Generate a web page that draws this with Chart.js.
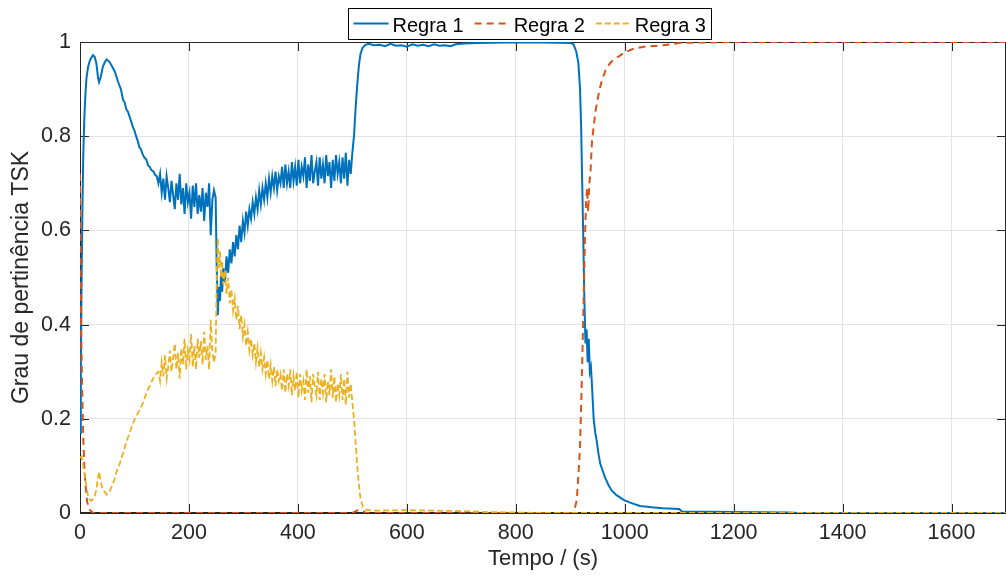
<!DOCTYPE html>
<html>
<head>
<meta charset="utf-8">
<script src="https://cdn.jsdelivr.net/npm/chart.js@4/dist/chart.umd.min.js"></script>
<style>
  html, body { margin: 0; padding: 0; background: #fff; }
  #wrap { width: 1006px; height: 583px; }
</style>
</head>
<body>
<div id="wrap"><canvas id="graph1" width="1006" height="583"></canvas></div>
<script>
// series names
var nomes = ["Regra 1", "Regra 2", "Regra 3"];

// Regra 1 (time in s, membership degree)
var t1 = [0, 1.5, 3, 4.5, 6, 8, 10, 12, 15, 18, 21, 24, 27, 30, 33, 35, 38, 42, 46, 49, 54, 58, 64, 70, 75, 79, 82, 85, 88, 92, 97, 100, 103, 106, 109, 112, 115, 118, 122, 125, 128, 131, 135, 138, 141,
  144, 147, 150, 153, 156, 159, 162, 165, 168, 171, 174, 177, 180, 183, 186, 189, 192, 195, 198, 201, 204, 207, 210, 213, 216, 219, 222, 225, 228, 231, 234, 237, 240, 243, 246, 249,
  251, 253, 255, 257, 259, 261, 263, 266, 269, 272, 275, 278, 281, 284, 287, 290, 293, 296, 299, 302, 305, 308, 311, 314, 317, 320, 323, 326, 329, 332, 335, 338, 341, 344, 347, 350,
  353, 356, 359, 362, 365, 368, 371, 374, 377, 380, 383, 386, 389, 392, 395, 398, 401, 404, 407, 410, 413, 416, 419, 422, 425, 428, 431, 434, 437, 440, 443, 446, 449, 452,
  455, 458, 461, 464, 467, 470, 473, 476, 479, 482, 485, 488, 491, 494, 497, 500, 503, 506, 509, 512, 515, 519, 524, 530,
  540, 550, 560, 570, 580, 590, 600, 610, 620, 630, 640, 650, 660, 670, 680, 690, 705, 730, 780, 850, 900, 906,
  911, 915, 918, 920, 922, 924, 926, 928, 930, 932, 934, 936, 938, 940, 943, 946, 949, 952, 955, 960, 964, 970, 976, 985, 998, 1010, 1028, 1050, 1070, 1090, 1100, 1105,
  1200, 1300, 1320, 1700];
var r1 = [0.17, 0.30, 0.50, 0.65, 0.76, 0.84, 0.89, 0.925, 0.948, 0.96, 0.967, 0.972, 0.968, 0.955, 0.925, 0.915, 0.925, 0.948, 0.958, 0.963, 0.958, 0.95, 0.937, 0.915, 0.90, 0.877, 0.872, 0.857, 0.852, 0.838, 0.82, 0.812, 0.80, 0.79, 0.777, 0.772, 0.762, 0.755, 0.75, 0.738, 0.735, 0.728, 0.725, 0.718, 0.715,
  0.70, 0.72, 0.68, 0.71, 0.665, 0.715, 0.69, 0.66, 0.705, 0.675, 0.645, 0.70, 0.665, 0.72, 0.655, 0.69, 0.635, 0.70, 0.66, 0.68, 0.625, 0.695, 0.65, 0.70, 0.635, 0.675, 0.64, 0.69, 0.62, 0.68, 0.65, 0.70, 0.59, 0.665, 0.685, 0.67,
  0.52, 0.42, 0.48, 0.45, 0.51, 0.47, 0.52, 0.49, 0.545, 0.51, 0.56, 0.53, 0.575, 0.545, 0.59, 0.56, 0.61, 0.575, 0.62, 0.595, 0.64, 0.61, 0.645, 0.625, 0.66, 0.635, 0.67, 0.645, 0.685, 0.655, 0.69, 0.665, 0.70, 0.67, 0.71, 0.68,
  0.715, 0.69, 0.725, 0.685, 0.715, 0.70, 0.735, 0.69, 0.74, 0.70, 0.725, 0.69, 0.745, 0.705, 0.735, 0.695, 0.75, 0.70, 0.735, 0.715, 0.755, 0.69, 0.74, 0.705, 0.76, 0.70, 0.725, 0.745, 0.695, 0.755, 0.71, 0.74, 0.70, 0.76,
  0.715, 0.745, 0.69, 0.75, 0.705, 0.76, 0.72, 0.745, 0.70, 0.755, 0.71, 0.765, 0.695, 0.75, 0.72, 0.765, 0.80, 0.86, 0.91, 0.95, 0.975, 0.988, 0.994, 0.996,
  0.993, 0.994, 0.991, 0.996, 0.992, 0.993, 0.990, 0.995, 0.992, 0.994, 0.991, 0.995, 0.992, 0.993, 0.991, 0.995, 0.997, 0.998, 0.999, 0.999, 0.998, 0.995,
  0.98, 0.955, 0.90, 0.82, 0.70, 0.58, 0.45, 0.36, 0.39, 0.32, 0.37, 0.30, 0.31, 0.27, 0.20, 0.17, 0.15, 0.125, 0.105, 0.088, 0.075, 0.06, 0.048, 0.038, 0.028, 0.022, 0.015, 0.012, 0.010, 0.009, 0.0085, 0.003,
  0.002, 0.001, 0, 0];

// Regra 2
var t2 = [0, 1, 2, 4, 6, 8, 10, 13, 16, 20, 25, 500, 510, 520, 525, 905,
  909, 912, 915, 918, 921, 924, 927, 929, 931, 933, 935, 937, 940, 943, 946, 949, 953, 958, 965, 973, 980, 990, 1000, 1015, 1035, 1060, 1083, 1100, 1150, 1200, 1700];
var r2 = [0.72, 0.55, 0.40, 0.26, 0.16, 0.10, 0.06, 0.025, 0.01, 0.004, 0, 0, 0.006, 0.004, 0, 0,
  0.013, 0.028, 0.08, 0.14, 0.27, 0.42, 0.58, 0.66, 0.69, 0.64, 0.70, 0.72, 0.79, 0.82, 0.85, 0.87, 0.895, 0.918, 0.94, 0.955, 0.963, 0.97, 0.978, 0.985, 0.99, 0.992, 0.995, 0.998, 0.999, 1, 1];

// Regra 3
var t3 = [0, 3, 6, 9, 12, 15, 18, 21, 24, 27, 30, 33, 35, 37, 40, 45, 49, 54, 58, 63, 67, 73, 79, 85, 91, 97, 103, 110, 116, 122, 128, 134, 140,
  144, 147, 150, 153, 156, 159, 162, 165, 168, 171, 174, 177, 180, 183, 186, 189, 192, 195, 198, 201, 204, 207, 210, 213, 216, 219, 222, 225, 228, 231, 234, 237, 240, 243, 246, 249,
  251, 253, 255, 257, 259, 261, 263, 266, 269, 272, 275, 278, 281, 284, 287, 290, 293, 296, 299, 302, 305, 308, 311, 314, 317, 320, 323, 326, 329, 332, 335, 338, 341, 344, 347, 350,
  353, 356, 359, 362, 365, 368, 371, 374, 377, 380, 383, 386, 389, 392, 395, 398, 401, 404, 407, 410, 413, 416, 419, 422, 425, 428, 431, 434, 437, 440, 443, 446, 449, 452,
  455, 458, 461, 464, 467, 470, 473, 476, 479, 482, 485, 488, 491, 494, 497, 500, 503, 506, 509, 512, 515, 519, 524, 540, 600, 650, 700, 750, 800, 850, 1700];
var r3 = [0.117, 0.12, 0.10, 0.078, 0.055, 0.035, 0.028, 0.026, 0.03, 0.035, 0.05, 0.075, 0.088, 0.075, 0.056, 0.045, 0.039, 0.045, 0.056, 0.07, 0.088, 0.105, 0.127, 0.15, 0.17, 0.19, 0.205, 0.22, 0.235, 0.255, 0.27, 0.285, 0.295,
  0.30, 0.28, 0.32, 0.29, 0.335, 0.285, 0.31, 0.345, 0.30, 0.33, 0.36, 0.305, 0.34, 0.285, 0.35, 0.315, 0.37, 0.305, 0.345, 0.325, 0.38, 0.31, 0.355, 0.305, 0.37, 0.33, 0.365, 0.315, 0.385, 0.325, 0.355, 0.305, 0.41, 0.34, 0.32, 0.34,
  0.50, 0.585, 0.52, 0.555, 0.50, 0.535, 0.485, 0.515, 0.465, 0.50, 0.445, 0.475, 0.43, 0.455, 0.41, 0.44, 0.39, 0.42, 0.375, 0.40, 0.355, 0.385, 0.345, 0.37, 0.335, 0.36, 0.32, 0.35, 0.31, 0.34, 0.305, 0.33, 0.295, 0.325, 0.285, 0.315,
  0.28, 0.31, 0.27, 0.305, 0.28, 0.295, 0.26, 0.305, 0.255, 0.295, 0.27, 0.305, 0.25, 0.29, 0.26, 0.30, 0.245, 0.295, 0.26, 0.28, 0.24, 0.305, 0.255, 0.29, 0.235, 0.295, 0.27, 0.25, 0.30, 0.24, 0.285, 0.255, 0.295, 0.235,
  0.28, 0.25, 0.305, 0.245, 0.29, 0.235, 0.275, 0.25, 0.295, 0.24, 0.285, 0.23, 0.30, 0.245, 0.275, 0.235, 0.20, 0.15, 0.10, 0.06, 0.03, 0.014, 0.007, 0.005, 0.006, 0.005, 0.004, 0.002, 0.001, 0, 0];

// axis ticks
var ticksX = [0, 200, 400, 600, 800, 1000, 1200, 1400, 1600];
var ticksY = [0, 0.2, 0.4, 0.6, 0.8, 1];

var cores = ["#0072BD", "#D95319", "#EDB120"];
var fonte = "'Liberation Sans', Arial, Helvetica, sans-serif";
var corTexto = "#262626";

function pontos(t, r) {
    return t.map(function (v, i) { return { x: v, y: r[i] }; });
}

// caixa do gráfico + marcas de escala para dentro (estilo matlab)
var moldura = {
    id: "moldura",
    beforeDatasetsDraw: function (chart) {
        var ctx = chart.ctx;
        var a = chart.chartArea;
        var sx = chart.scales.x, sy = chart.scales.y;
        var tl = 9;
        ctx.save();
        ctx.strokeStyle = corTexto;
        ctx.lineWidth = 1;
        ctx.strokeRect(a.left + 0.5, a.top + 0.5, a.right - a.left - 1, a.bottom - a.top - 1);
        ctx.beginPath();
        ticksX.forEach(function (v) {
            var px = Math.round(sx.getPixelForValue(v)) + 0.5;
            ctx.moveTo(px, a.bottom); ctx.lineTo(px, a.bottom - tl);
            ctx.moveTo(px, a.top); ctx.lineTo(px, a.top + tl);
        });
        ticksY.forEach(function (v) {
            var py = Math.round(sy.getPixelForValue(v)) + 0.5;
            ctx.moveTo(a.left, py); ctx.lineTo(a.left + tl, py);
            ctx.moveTo(a.right, py); ctx.lineTo(a.right - tl, py);
        });
        ctx.stroke();
        ctx.restore();
    }
};

// legenda horizontal com caixa
var legenda = {
    id: "legenda",
    afterDraw: function (chart) {
        var ctx = chart.ctx;
        var x0 = 348.5, y0 = 8.5, w = 363, h = 31;
        ctx.save();
        ctx.fillStyle = "#fff";
        ctx.fillRect(x0, y0, w, h);
        ctx.strokeStyle = "#000";
        ctx.lineWidth = 1;
        ctx.strokeRect(x0, y0, w, h);
        ctx.font = "20px " + fonte;
        ctx.textBaseline = "alphabetic";
        ctx.textAlign = "left";
        var x = x0 + 5;
        var yl = 23.5;
        chart.data.datasets.forEach(function (ds) {
            ctx.strokeStyle = ds.borderColor;
            ctx.lineWidth = ds.borderWidth;
            ctx.setLineDash(ds.borderDash || []);
            ctx.beginPath();
            ctx.moveTo(x, yl); ctx.lineTo(x + 35, yl);
            ctx.stroke();
            ctx.setLineDash([]);
            ctx.fillStyle = "#000";
            ctx.fillText(ds.label, x + 39, 31.5);
            x += 39 + ctx.measureText(ds.label).width + 11;
        });
        ctx.restore();
    }
};

var ctx = document.getElementById("graph1").getContext("2d");
const myChart = new Chart(ctx, {
    type: "line",
    data: {
        datasets: [
            { label: nomes[0], data: pontos(t1, r1), borderColor: cores[0], borderWidth: 2, order: 3 },
            { label: nomes[1], data: pontos(t2, r2), borderColor: cores[1], borderWidth: 2, borderDash: [7, 5], order: 2 },
            { label: nomes[2], data: pontos(t3, r3), borderColor: cores[2], borderWidth: 1.8, borderDash: [6, 3], order: 1 }
        ]
    },
    options: {
        responsive: false,
        animation: false,
        events: [],
        layout: { padding: { top: 42, right: -6, left: 0, bottom: 0 } },
        elements: {
            point: { radius: 0 },
            line: { tension: 0, fill: false }
        },
        plugins: {
            legend: { display: false },
            tooltip: { enabled: false }
        },
        scales: {
            x: {
                type: "linear",
                min: 0,
                max: 1700,
                afterFit: function (s) { s.height = 70; },
                ticks: {
                    stepSize: 200,
                    includeBounds: false,
                    padding: 7,
                    color: corTexto,
                    font: { family: fonte, size: 21.5 },
                    callback: function (v) { return String(v); }
                },
                grid: { color: "#e3e3e3", drawTicks: false, tickLength: 0 },
                border: { color: corTexto },
                title: {
                    display: true,
                    text: "Tempo / (s)",
                    color: corTexto,
                    font: { family: fonte, size: 22 },
                    padding: { top: 0, bottom: 11 }
                }
            },
            y: {
                min: 0,
                max: 1,
                afterFit: function (s) { s.width = 80; },
                ticks: {
                    stepSize: 0.2,
                    padding: 9,
                    color: corTexto,
                    font: { family: fonte, size: 21.5 },
                    callback: function (v) { return String(Math.round(v * 10) / 10); }
                },
                grid: { color: "#e3e3e3", drawTicks: false, tickLength: 0 },
                border: { color: corTexto },
                title: {
                    display: true,
                    text: "Grau de pertinência TSK",
                    color: corTexto,
                    font: { family: fonte, size: 23 },
                    padding: { top: 8, bottom: 0 }
                }
            }
        }
    },
    plugins: [moldura, legenda]
});
</script>
</body>
</html>
